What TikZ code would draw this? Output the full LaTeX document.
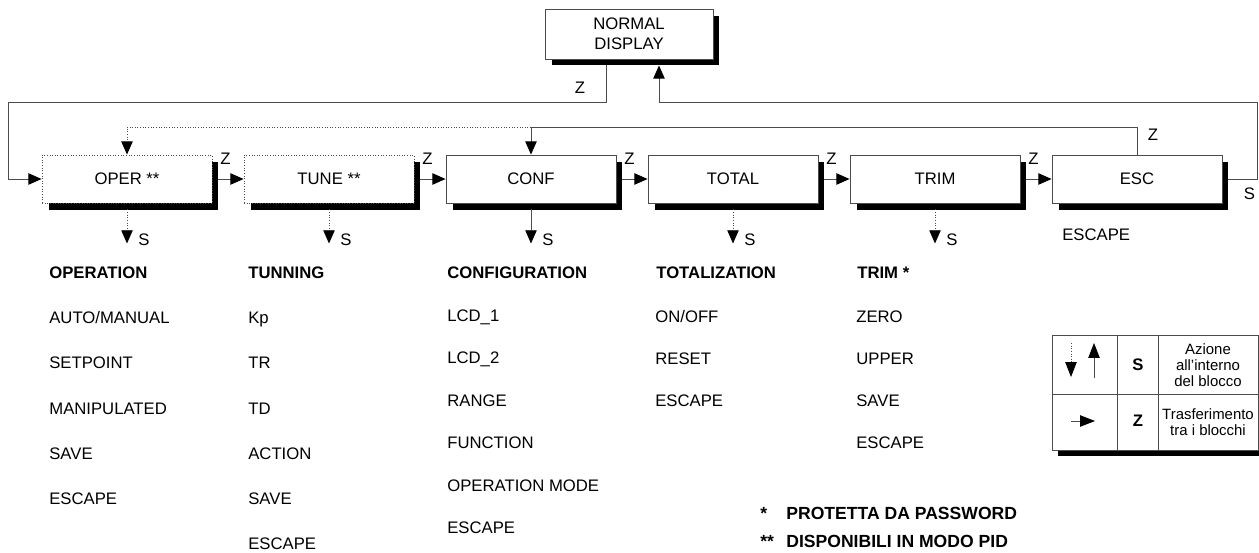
\documentclass[tikz,border=0pt]{standalone}
\usepackage{fontspec}
\setmainfont{Liberation Sans}
\usetikzlibrary{arrows.meta,shadows}

\begin{document}
\begin{tikzpicture}[x=0.02cm,y=-0.02cm,
    font=\fontsize{9.5}{11.4}\selectfont,
    >={Triangle[length=7.5pt,width=6.5pt,color=black]},
    blk/.style={draw=black!70,line width=0.5pt,fill=white,inner sep=0pt,
      minimum width=3.4cm,minimum height=0.96cm,
      drop shadow={shadow xshift=0.13cm,shadow yshift=-0.13cm,fill=black,opacity=1}},
    pid/.style={blk,densely dotted},
    link/.style={draw=black!70,line width=0.5pt},
    dlink/.style={link,densely dotted},
    lbl/.style={inner sep=0pt},
    itm/.style={anchor=west,inner sep=0pt,text height=6.8pt,text depth=0pt},
    hd/.style={itm,font=\fontsize{9.5}{11.4}\selectfont\bfseries},
    fn/.style={itm,font=\fontsize{10}{12}\selectfont\bfseries}]

  \useasboundingbox (0,0) rectangle (1259,552);

  \node[blk,minimum width=3.36cm,minimum height=1cm,align=center] (nd) at (629,34) {NORMAL\\DISPLAY};

  \node[pid] (oper) at (127,179) {OPER **};
  \node[pid] (tune) at (329,179) {TUNE **};
  \node[blk] (conf) at (531,179) {CONF};
  \node[blk] (total) at (733,179) {TOTAL};
  \node[blk] (trim) at (935,179) {TRIM};
  \node[blk] (esc) at (1137,179) {ESC};

  % Z: passaggio tra i blocchi
  \draw[link,->] ([shift={(6,0)}]oper.east) -- (tune.west);
  \draw[link,->] ([shift={(6,0)}]tune.east) -- (conf.west);
  \draw[link,->] ([shift={(6,0)}]conf.east) -- (total.west);
  \draw[link,->] ([shift={(6,0)}]total.east) -- (trim.west);
  \draw[link,->] ([shift={(6,0)}]trim.east) -- (esc.west);
  \node[lbl] (z1) at ([shift={(13,4)}]oper.north east) {Z};
  \node[lbl] (z2) at ([shift={(13,4)}]tune.north east) {Z};
  \node[lbl] (z3) at ([shift={(13,4)}]conf.north east) {Z};
  \node[lbl] (z4) at ([shift={(13,4)}]total.north east) {Z};
  \node[lbl] (z5) at ([shift={(13,4)}]trim.north east) {Z};

  \coordinate (lft) at (8,102);
  \coordinate (rgt) at (1257,102);
  \coordinate (bar) at (0,127);
  \draw[link,->] ([shift={(-23,6)}]nd.south) |- (lft) |- (oper.west);
  \draw[link,->] ([shift={(6,0)}]esc.east) -| (rgt) -| ([shift={(30,6)}]nd.south);
  \draw[link,->] (esc.north) |- (conf.north |- bar) -- (conf.north);
  \draw[dlink,->] (conf.north |- bar) -| (oper.north);
  \node[lbl] (znd) at ([shift={(-49,28)}]nd.south) {Z};
  \node[lbl] (zesc) at ([shift={(16,-20)}]esc.north) {Z};
  \node[lbl] (sesc) at ([shift={(27,15)}]esc.east) {S};

  % S: azione nel blocco
  \coordinate (soper) at ([shift={(0,40)}]oper.south);
  \coordinate (stune) at ([shift={(0,40)}]tune.south);
  \coordinate (sconf) at ([shift={(0,40)}]conf.south);
  \coordinate (stotal) at ([shift={(0,40)}]total.south);
  \coordinate (strim) at ([shift={(0,40)}]trim.south);
  \draw[dlink,->] ([shift={(0,6)}]oper.south) -- (soper);
  \draw[dlink,->] ([shift={(0,6)}]tune.south) -- (stune);
  \draw[link,->] ([shift={(0,6)}]conf.south) -- (sconf);
  \draw[dlink,->] ([shift={(0,6)}]total.south) -- (stotal);
  \draw[dlink,->] ([shift={(0,6)}]trim.south) -- (strim);
  \node[lbl] (s1) at ([shift={(17,-4)}]soper) {S};
  \node[lbl] (s2) at ([shift={(17,-4)}]stune) {S};
  \node[lbl] (s3) at ([shift={(17,-4)}]sconf) {S};
  \node[lbl] (s4) at ([shift={(17,-4)}]stotal) {S};
  \node[lbl] (s5) at ([shift={(17,-4)}]strim) {S};

  \node[hd] (hoper) at (49,273) {OPERATION};
  \node[itm] (oper1) at (49,318) {AUTO/MANUAL};
  \node[itm] (oper2) at (49,363) {SETPOINT};
  \node[itm] (oper3) at (49,409) {MANIPULATED};
  \node[itm] (oper4) at (49,454) {SAVE};
  \node[itm] (oper5) at (49,499) {ESCAPE};

  \node[hd] (htune) at (248,273) {TUNNING};
  \node[itm] (tune1) at (248,318) {Kp};
  \node[itm] (tune2) at (248,363) {TR};
  \node[itm] (tune3) at (248,409) {TD};
  \node[itm] (tune4) at (248,454) {ACTION};
  \node[itm] (tune5) at (248,499) {SAVE};
  \node[itm] (tune6) at (248,544) {ESCAPE};

  \node[hd] (hconf) at (447,273) {CONFIGURATION};
  \node[itm] (conf1) at (447,316) {LCD\_1};
  \node[itm] (conf2) at (447,358) {LCD\_2};
  \node[itm] (conf3) at (447,401) {RANGE};
  \node[itm] (conf4) at (447,443) {FUNCTION};
  \node[itm] (conf5) at (447,486) {OPERATION MODE};
  \node[itm] (conf6) at (447,528) {ESCAPE};

  \node[hd] (htotal) at (656,273) {TOTALIZATION};
  \node[itm] (total1) at (655,317) {ON/OFF};
  \node[itm] (total2) at (655,359) {RESET};
  \node[itm] (total3) at (655,401) {ESCAPE};

  \node[hd] (htrim) at (857,273) {TRIM *};
  \node[itm] (trim1) at (856,317) {ZERO};
  \node[itm] (trim2) at (856,359) {UPPER};
  \node[itm] (trim3) at (856,401) {SAVE};
  \node[itm] (trim4) at (856,443) {ESCAPE};

  \node[itm] (esc1) at (1062,235) {ESCAPE};

  % legenda
  \fill (1058,341) rectangle (1265,456);
  \draw[link,fill=white] (1052,335) rectangle (1258,450);
  \draw[link] (1052,394) -- (1258,394) (1117,335) -- (1117,450) (1158,335) -- (1158,450);
  \coordinate (ka) at (1071,343);
  \coordinate (kb) at (1071,377);
  \coordinate (kc) at (1094,378);
  \coordinate (kd) at (1094,343);
  \coordinate (ke) at (1071,421);
  \coordinate (kf) at (1095,421);
  \draw[dlink,-{Triangle[length=8.5pt,width=6.5pt,color=black]}] (ka) -- (kb);
  \draw[link,-{Triangle[length=8.5pt,width=6.5pt,color=black]}] (kc) -- (kd);
  \draw[link,-{Triangle[length=8.5pt,width=6.5pt,color=black]}] (ke) -- (kf);
  \node[lbl,font=\fontsize{9.5}{11.4}\selectfont\bfseries] (ks) at (1138,365) {S};
  \node[lbl,font=\fontsize{9.5}{11.4}\selectfont\bfseries] (kz) at (1138,421) {Z};
  \node[lbl,align=center,font=\fontsize{8.5}{9.1}\selectfont] (kt1) at (1208,365) {Azione\\all’interno\\del blocco};
  \node[lbl,align=center,font=\fontsize{8.5}{9.1}\selectfont] (kt2) at (1208,422) {Trasferimento\\tra i blocchi};

  \node[fn] (f1) at (760,514) {*};
  \node[fn] (f1t) at (786,514) {PROTETTA DA PASSWORD};
  \node[fn] (f2) at (760,542) {**};
  \node[fn] (f2t) at (786,542) {DISPONIBILI IN MODO PID};
\end{tikzpicture}
\end{document}
